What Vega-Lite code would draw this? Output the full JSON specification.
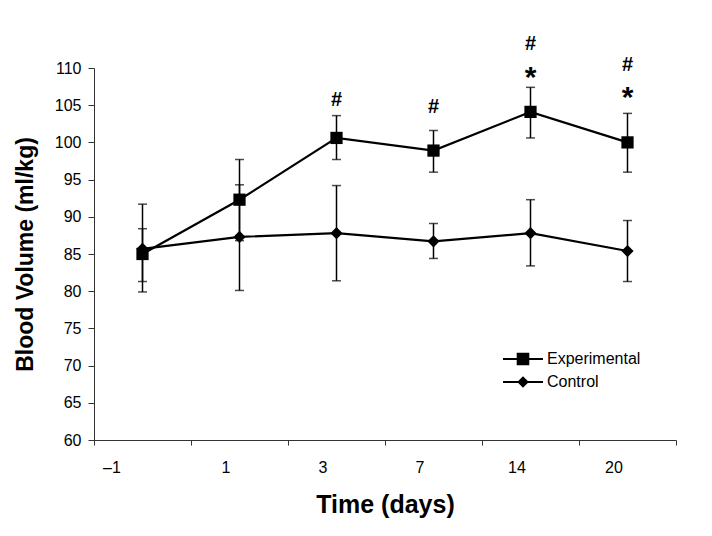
{
  "$schema": "https://vega.github.io/schema/vega-lite/v6.json",
  "width": 582,
  "height": 372,
  "autosize": {"type": "none"},
  "padding": {"left": 94, "top": 68, "right": 36, "bottom": 96},
  "background": "white",
  "config": {
    "view": {"stroke": null},
    "font": "Liberation Sans",
    "axisY": {
      "tickCount": 11,
      "labelOverlap": false,
      "labelFont": "Liberation Sans",
      "labelFontSize": 16,
      "labelColor": "black",
      "labelPadding": 7,
      "tickSize": 6,
      "tickColor": "#333",
      "domainColor": "#333",
      "grid": false,
      "titleFont": "Liberation Sans",
      "titleFontSize": 23,
      "titleFontWeight": "bold",
      "titleColor": "black",
      "titlePadding": 17
    }
  },
  "datasets": {
    "bv": [
      {"day": "–1", "group": "Experimental", "value": 85.0, "lo": 81.3, "hi": 88.4},
      {"day": "1", "group": "Experimental", "value": 92.3, "lo": 86.8, "hi": 97.7},
      {"day": "3", "group": "Experimental", "value": 100.6, "lo": 97.7, "hi": 103.6},
      {"day": "7", "group": "Experimental", "value": 98.9, "lo": 96.0, "hi": 101.6},
      {"day": "14", "group": "Experimental", "value": 104.1, "lo": 100.6, "hi": 107.4},
      {"day": "20", "group": "Experimental", "value": 100.0, "lo": 96.0, "hi": 103.9},
      {"day": "–1", "group": "Control", "value": 85.7, "lo": 79.9, "hi": 91.7},
      {"day": "1", "group": "Control", "value": 87.3, "lo": 80.1, "hi": 94.3},
      {"day": "3", "group": "Control", "value": 87.8, "lo": 81.4, "hi": 94.2},
      {"day": "7", "group": "Control", "value": 86.7, "lo": 84.4, "hi": 89.1},
      {"day": "14", "group": "Control", "value": 87.8, "lo": 83.4, "hi": 92.3},
      {"day": "20", "group": "Control", "value": 85.4, "lo": 81.3, "hi": 89.5}
    ],
    "notes": [
      {"day": "3", "kind": "hash", "label": "#", "y": 105.7},
      {"day": "7", "kind": "hash", "label": "#", "y": 104.8},
      {"day": "14", "kind": "hash", "label": "#", "y": 113.2},
      {"day": "14", "kind": "star", "label": "*", "y": 109.3},
      {"day": "20", "kind": "hash", "label": "#", "y": 110.4},
      {"day": "20", "kind": "star", "label": "*", "y": 106.6}
    ]
  },
  "encoding": {
    "x": {
      "field": "day",
      "type": "ordinal",
      "sort": ["–1", "1", "3", "7", "14", "20"],
      "scale": {"type": "band", "paddingInner": 0, "paddingOuter": 0},
      "axis": {
        "title": "Time (days)",
        "titleFont": "Liberation Sans",
        "titleFontSize": 25,
        "titleFontWeight": "bold",
        "titleColor": "black",
        "titlePadding": 17,
        "labelAngle": 0,
        "labelFont": "Liberation Sans",
        "labelFontSize": 16,
        "labelColor": "black",
        "labelPadding": 14,
        "labelOffset": {"condition": {"test": "datum.value === '–1'", "value": -31}, "value": -14},
        "tickBand": "extent",
        "tickSize": 5,
        "tickColor": "#333",
        "domainColor": "#333",
        "grid": false
      }
    }
  },
  "resolve": {"scale": {"shape": "independent"}},
  "layer": [
    {
      "data": {"name": "bv"},
      "mark": {"type": "rule", "color": "black", "strokeWidth": 1.5},
      "encoding": {
        "y": {
          "field": "lo",
          "type": "quantitative",
          "scale": {"domain": [60, 110], "nice": false, "zero": false},
          "axis": {
            "title": "Blood Volume (ml/kg)",
            "values": [60, 65, 70, 75, 80, 85, 90, 95, 100, 105, 110]
          }
        },
        "y2": {"field": "hi"}
      }
    },
    {
      "data": {"name": "bv"},
      "mark": {"type": "tick", "color": "black", "size": 9, "thickness": 1.5},
      "encoding": {"y": {"field": "lo", "type": "quantitative"}}
    },
    {
      "data": {"name": "bv"},
      "mark": {"type": "tick", "color": "black", "size": 9, "thickness": 1.5},
      "encoding": {"y": {"field": "hi", "type": "quantitative"}}
    },
    {
      "data": {"name": "bv"},
      "mark": {"type": "line", "color": "black", "strokeWidth": 2.2},
      "encoding": {
        "y": {"field": "value", "type": "quantitative"},
        "detail": {"field": "group"}
      }
    },
    {
      "data": {"name": "bv"},
      "mark": {"type": "point", "filled": true, "color": "black", "opacity": 1, "size": 150},
      "encoding": {
        "y": {"field": "value", "type": "quantitative"},
        "shape": {
          "field": "group",
          "type": "nominal",
          "scale": {"domain": ["Experimental", "Control"], "range": ["square", "diamond"]},
          "legend": null
        }
      }
    },
    {
      "data": {"name": "bv"},
      "mark": {"type": "point", "filled": true, "color": "black", "opacity": 0, "size": 400},
      "encoding": {
        "y": {"field": "value", "type": "quantitative"},
        "shape": {
          "field": "group",
          "type": "nominal",
          "scale": {
            "domain": ["Experimental", "Control"],
            "range": [
              "M-2,-0.1L2,-0.1L2,0.1L-2,0.1Z M-0.63,-0.63L0.63,-0.63L0.63,0.63L-0.63,0.63Z",
              "M-2,-0.1L2,-0.1L2,0.1L-2,0.1Z M-0.58,0L0,-0.58L0.58,0L0,0.58Z"
            ]
          },
          "legend": {
            "orient": "none",
            "legendX": 419,
            "legendY": 281,
            "title": null,
            "padding": 0,
            "symbolSize": 400,
            "symbolFillColor": "black",
            "symbolStrokeWidth": 0,
            "symbolOpacity": 1,
            "labelFont": "Liberation Sans",
            "labelFontSize": 16,
            "labelColor": "black",
            "labelOffset": 14,
            "rowPadding": 5
          }
        }
      }
    },
    {
      "data": {"name": "notes"},
      "transform": [{"filter": "datum.kind === 'hash'"}],
      "mark": {"type": "text", "color": "black", "font": "Liberation Sans", "fontSize": 20, "fontWeight": "bold", "baseline": "middle", "align": "center"},
      "encoding": {
        "y": {"field": "y", "type": "quantitative"},
        "text": {"field": "label"}
      }
    },
    {
      "data": {"name": "notes"},
      "transform": [{"filter": "datum.kind === 'star'"}],
      "mark": {"type": "text", "color": "black", "font": "Liberation Sans", "fontSize": 30, "fontWeight": "bold", "baseline": "middle", "align": "center", "dy": 5},
      "encoding": {
        "y": {"field": "y", "type": "quantitative"},
        "text": {"field": "label"}
      }
    }
  ]
}
